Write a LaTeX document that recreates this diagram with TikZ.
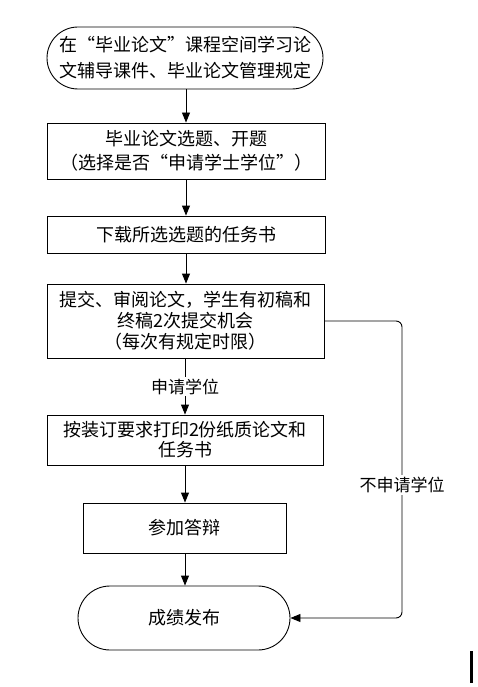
\documentclass[tikz,border=0pt]{standalone}
\usepackage{fontspec}
\setmainfont{Noto Sans CJK SC}
\usetikzlibrary{shapes.misc,arrows.meta}
\tikzset{
  boxnode/.style={draw, line width=0.9pt, rectangle, align=center, inner sep=0pt},
  stadium/.style={draw, line width=0.9pt, rounded rectangle, align=center, inner sep=0pt},
  flow/.style={draw, line width=0.9pt, -{Triangle[length=10pt,width=8pt]}},
  lbl/.style={fill=white, inner sep=2pt, font=\fontsize{17}{20}\selectfont}
}
\begin{document}
\begin{tikzpicture}[x=1pt,y=-1pt]
\useasboundingbox[fill=white] (0,0) rectangle (477,687);
\node[stadium, minimum width=276pt, minimum height=62pt, font=\fontsize{18}{26}\selectfont] (n1) at (185,58)
  {在“毕业论文”课程空间学习论\\文辅导课件、毕业论文管理规定};
\node[boxnode, minimum width=278pt, minimum height=56pt, font=\fontsize{18}{24}\selectfont] (n2) at (186,151)
  {毕业论文选题、开题\\（选择是否“申请学士学位”）};
\node[boxnode, minimum width=278pt, minimum height=37pt, font=\fontsize{18}{24}\selectfont] (n3) at (186,234.5)
  {下载所选选题的任务书};
\node[boxnode, minimum width=277pt, minimum height=74pt, font=\fontsize{18}{21}\selectfont] (n4) at (185.5,321)
  {提交、审阅论文，学生有初稿和\\终稿2次提交机会\\（每次有规定时限）};
\node[boxnode, minimum width=276pt, minimum height=50pt, font=\fontsize{18}{20}\selectfont] (n5) at (185,440)
  {按装订要求打印2份纸质论文和\\任务书};
\node[boxnode, minimum width=203pt, minimum height=50pt, font=\fontsize{18}{20}\selectfont] (n6) at (184.5,528)
  {参加答辩};
\node[stadium, minimum width=212pt, minimum height=64pt, font=\fontsize{18}{20}\selectfont] (n7) at (184,618)
  {成绩发布};
\draw[flow] (n1.south -| 186,0) -- (n2.north -| 186,0);
\draw[flow] (n2.south -| 186,0) -- (n3.north -| 186,0);
\draw[flow] (n3.south -| 186,0) -- (n4.north -| 186,0);
\draw[flow] (n4.south -| 185,0) -- node[lbl] (l1) {申请学位} (n5.north -| 185,0);
\draw[flow] (n5.south -| 185,0) -- (n6.north -| 185,0);
\draw[flow] (n6.south -| 185,0) -- (n7.north -| 185,0);
\coordinate (c1) at (402,321);
\coordinate (c2) at (402,618);
\draw[flow, rounded corners=6pt] (n4.east) -- (c1) -- (c2) -- (n7.east);
\node[lbl] (l2) at (402,485) {不申请学位};
\fill (470,651) rectangle (473,683);
\end{tikzpicture}
\end{document}
